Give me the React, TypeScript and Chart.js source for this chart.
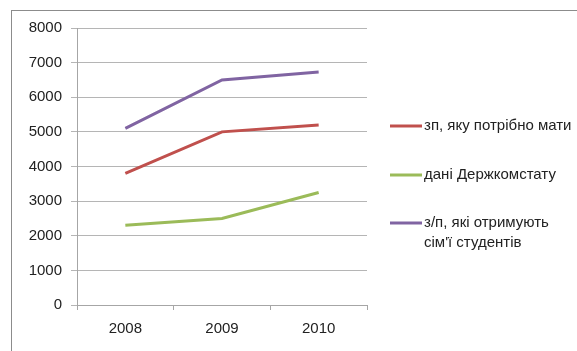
import React, { useEffect, useRef } from "react";
import { Chart, registerables } from "chart.js";

Chart.register(...registerables);

const categories = ["2008", "2009", "2010"];
const neededSalary = [3800, 5000, 5200];
const statData = [2300, 2500, 3250];
const studentFamilies = [5100, 6500, 6730];
const yTicks = [0, 1000, 2000, 3000, 4000, 5000, 6000, 7000, 8000];
const seriesNames: string[][] = [
  ["зп, яку потрібно мати"],
  ["дані Держкомстату"],
  ["з/п, які отримують", "сім'ї студентів"],
];
const seriesColors = ["#c0504d", "#9bbb59", "#8064a2"];

const FONT = "'Liberation Sans', Arial, sans-serif";

const legendPlugin = {
  id: "sideLegend",
  afterDraw(chart: any) {
    const ctx = chart.ctx;
    const ys = [126, 175, 223];
    ctx.save();
    ctx.font = `15px ${FONT}`;
    ctx.textBaseline = "middle";
    ctx.fillStyle = "#222";
    chart.data.datasets.forEach((ds: any, i: number) => {
      const y = ys[i];
      ctx.strokeStyle = ds.borderColor;
      ctx.lineWidth = 3;
      ctx.beginPath();
      ctx.moveTo(390, y);
      ctx.lineTo(422, y);
      ctx.stroke();
      const lines: string[] = seriesNames[i];
      lines.forEach((t, j) => {
        ctx.fillText(t, 424, y + j * 20);
      });
    });
    ctx.restore();
  },
};

export default function App() {
  const ref = useRef<HTMLCanvasElement | null>(null);
  useEffect(() => {
    if (!ref.current) return;
    const chart = new Chart(ref.current, {
      type: "line",
      data: {
        labels: categories,
        datasets: [
          { label: seriesNames[0].join(" "), data: neededSalary, borderColor: seriesColors[0], backgroundColor: seriesColors[0] },
          { label: seriesNames[1].join(" "), data: statData, borderColor: seriesColors[1], backgroundColor: seriesColors[1] },
          { label: seriesNames[2].join(" "), data: studentFamilies, borderColor: seriesColors[2], backgroundColor: seriesColors[2] },
        ].map((d) => ({ ...d, borderWidth: 3, pointRadius: 0, tension: 0, fill: false })),
      },
      options: {
        animation: false,
        responsive: false,
        layout: { padding: { left: 0, top: 28, right: 210, bottom: 0 } },
        plugins: { legend: { display: false }, tooltip: { enabled: false } },
        scales: {
          x: {
            offset: true,
            grid: { offset: true, display: true, drawOnChartArea: false, tickLength: 5, color: "#a6a6a6" },
            border: { color: "#a6a6a6" },
            ticks: { font: { family: FONT, size: 15 }, color: "#222", padding: 10 },
            afterFit: (s: any) => { s.height = 46; },
          },
          y: {
            min: 0,
            max: 8000,
            afterBuildTicks: (s: any) => { s.ticks = yTicks.map((v) => ({ value: v })); },
            grid: { color: "#b5b5b5", tickLength: 6 },
            border: { color: "#a6a6a6" },
            ticks: {
              font: { family: FONT, size: 15 },
              color: "#222",
              padding: 9,
              callback: (v: any) => String(v),
            },
            afterFit: (s: any) => { s.width = 77; },
          },
        },
      },
      plugins: [legendPlugin],
    });
    return () => chart.destroy();
  }, []);
  return (
    <div style={{ position: "fixed", left: 0, top: 0, width: 577, height: 351, background: "#fff", overflow: "hidden" }}>
      <div style={{ position: "absolute", left: 11, top: 10, width: 600, height: 400, borderLeft: "1px solid #8c8c8c", borderTop: "1px solid #8c8c8c" }} />
      <canvas ref={ref} width={577} height={351} style={{ position: "absolute", left: 0, top: 0 }} />
    </div>
  );
}
